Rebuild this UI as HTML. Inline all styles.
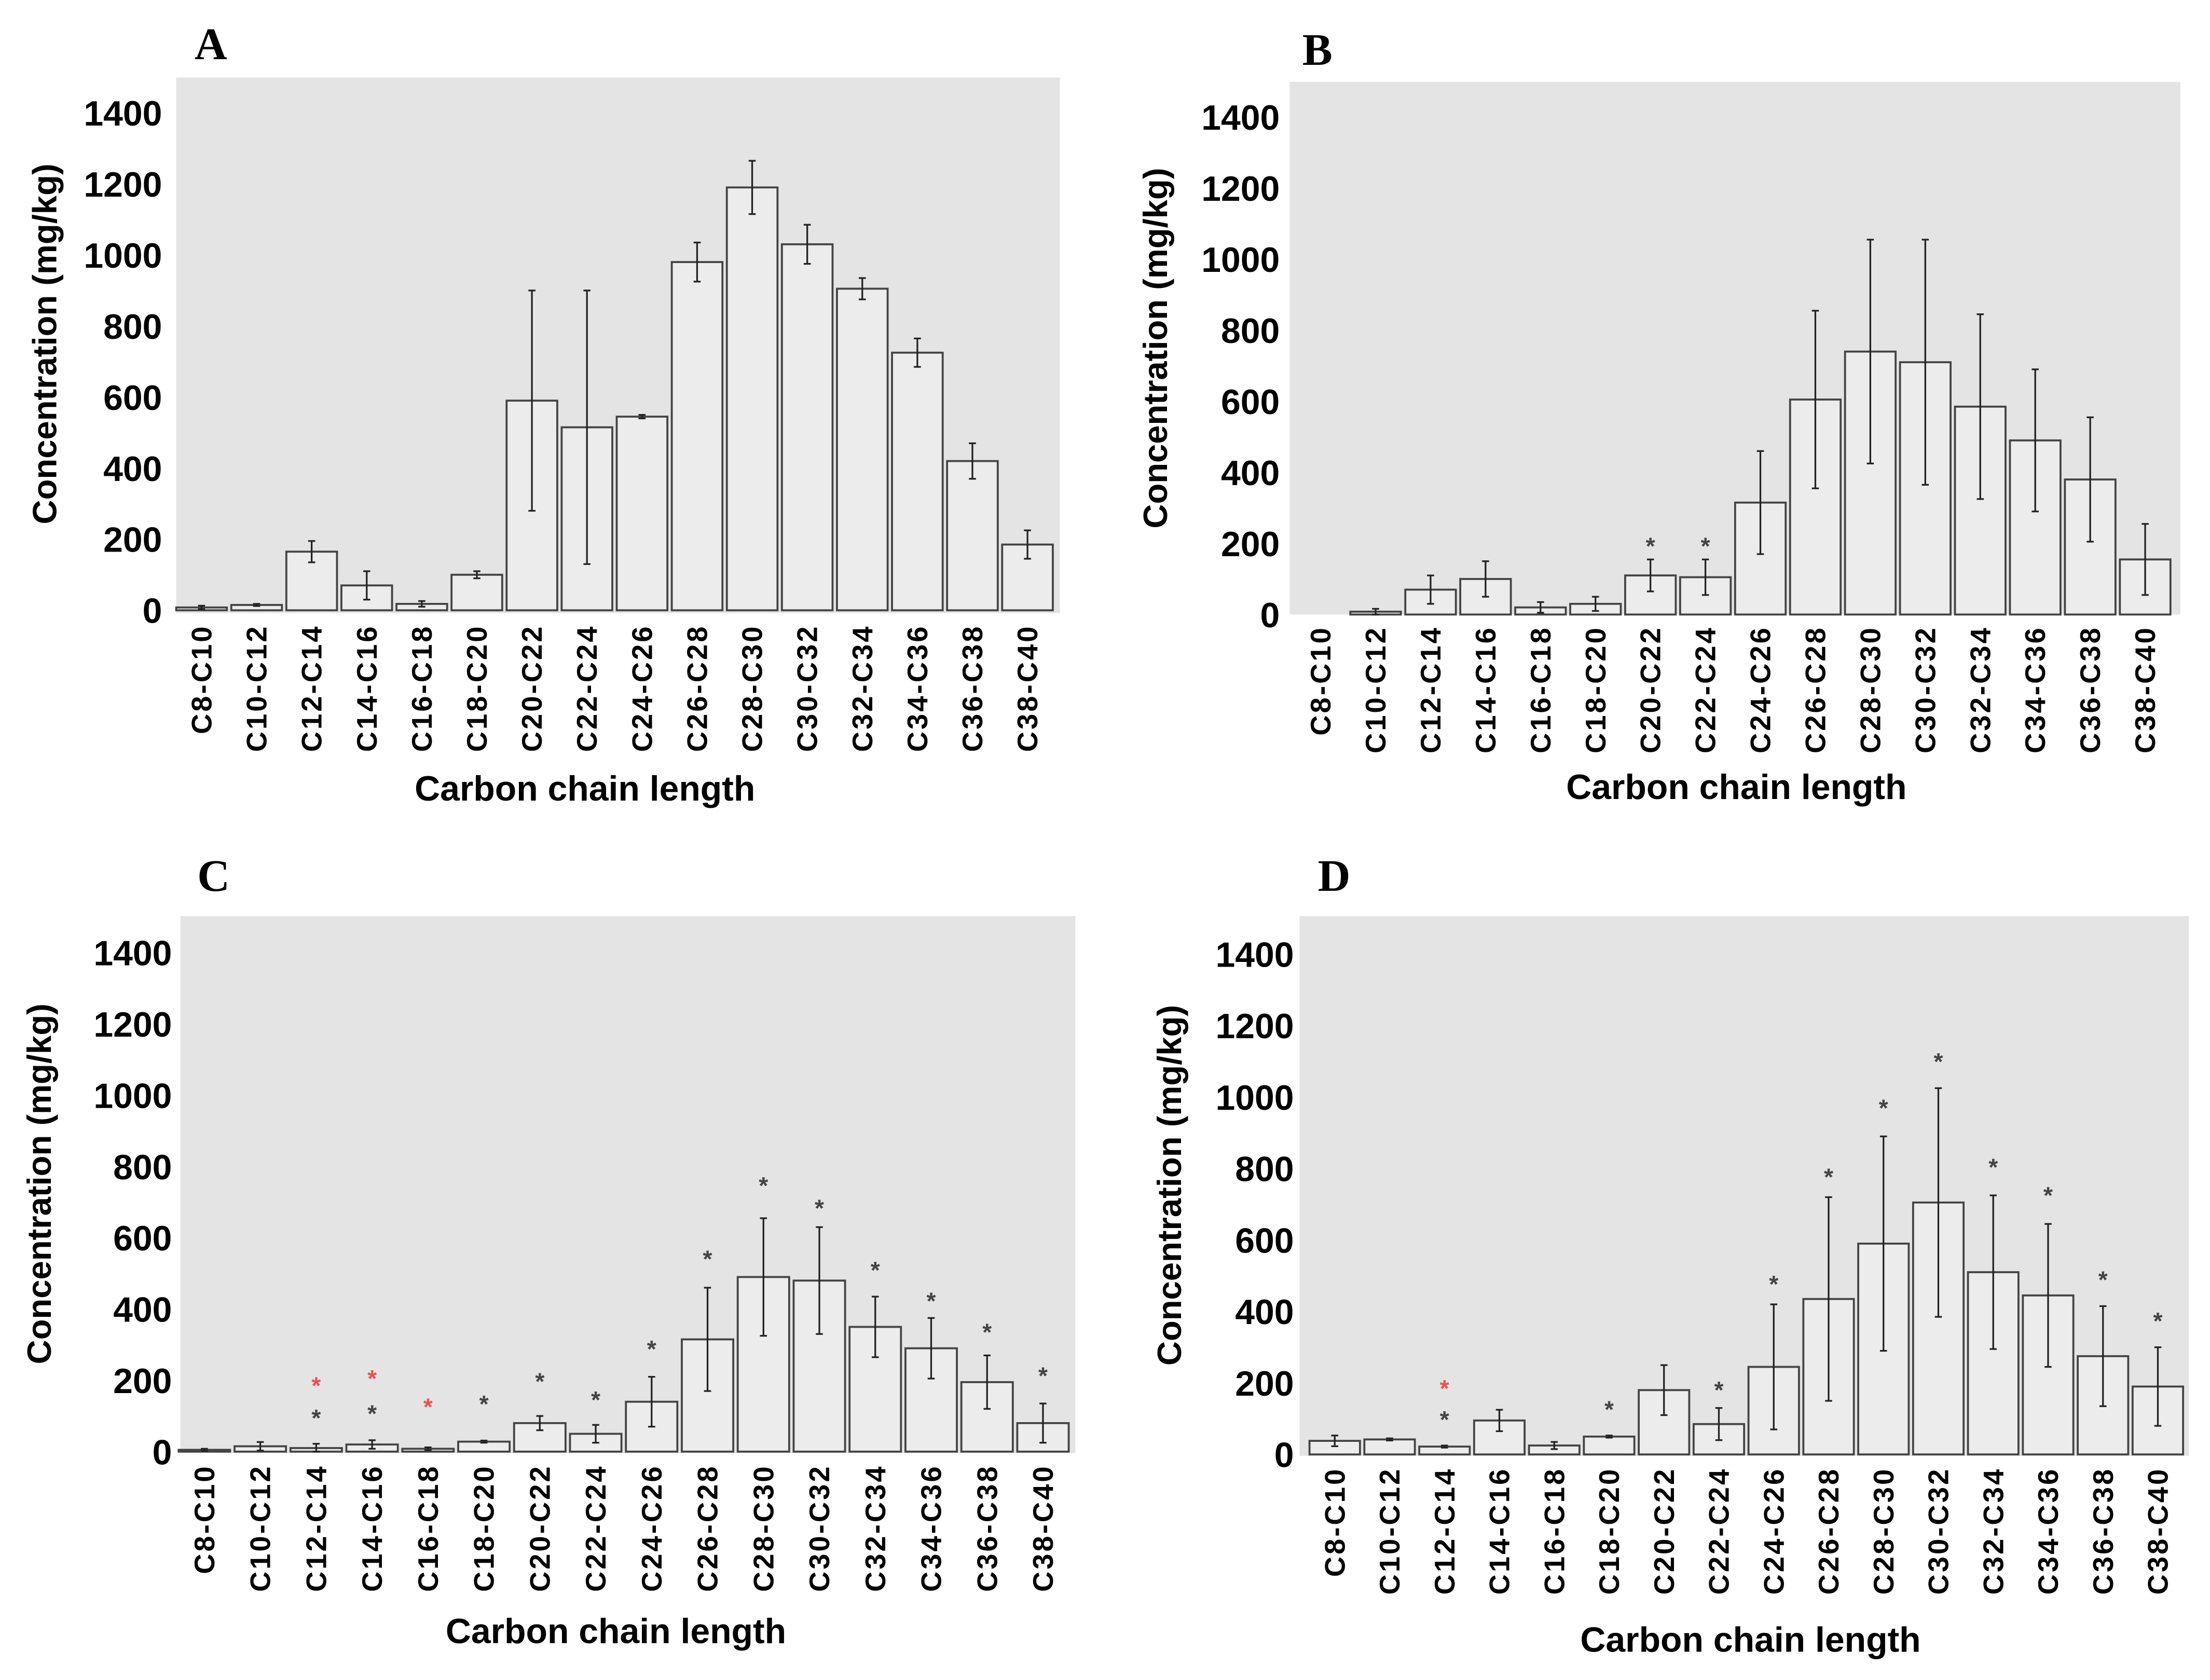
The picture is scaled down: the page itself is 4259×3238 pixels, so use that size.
<!DOCTYPE html>
<html><head><meta charset="utf-8">
<style>
html,body{margin:0;padding:0;background:#fff;}
svg{display:block;}
</style></head>
<body>
<svg id="fig" width="4259" height="3238" viewBox="0 0 1568 1192" xmlns="http://www.w3.org/2000/svg"></svg>
<script>
const categories = ["C8-C10","C10-C12","C12-C14","C14-C16","C16-C18","C18-C20","C20-C22","C22-C24","C24-C26","C26-C28","C28-C30","C30-C32","C32-C34","C34-C36","C36-C38","C38-C40"];
const yTicks = [0,200,400,600,800,1000,1200,1400];
const valuesA = [8,15,165,70,18,100,590,515,545,980,1190,1030,905,725,420,185];
const errorsA = [5,3,30,40,8,10,310,385,5,55,75,55,30,40,50,40];
const valuesB = [0,8,70,100,20,30,110,105,315,605,740,710,585,490,380,155];
const errorsB = [0,8,40,50,15,20,45,50,145,250,315,345,260,200,175,100];
const starsB = [null,null,null,null,null,null,205,205,null,null,null,null,null,null,null,null];
const redStarsB = [null,null,null,null,null,null,null,null,null,null,null,null,null,null,null,null];
const valuesC = [5,15,10,20,8,28,80,50,140,315,490,480,350,290,195,80];
const errorsC = [3,12,12,12,4,3,20,25,70,145,165,150,85,85,75,55];
const starsC = [null,null,107,119,null,146,209,158,300,553,759,696,522,435,348,225];
const redStarsC = [null,null,198,217,138,null,null,null,null,null,null,null,null,null,null,null];
const valuesD = [38,42,22,95,25,50,180,85,245,435,590,705,510,445,275,190];
const errorsD = [15,3,3,30,10,3,70,45,175,285,300,320,215,200,140,110];
const starsD = [null,null,110,null,null,138,null,193,489,789,982,1112,816,737,501,386];
const redStarsD = [null,null,197,null,null,null,null,null,null,null,null,null,null,null,null,null];

const NS="http://www.w3.org/2000/svg";
const svg=document.getElementById('fig');
const SANS='font-family:"Liberation Sans",sans-serif;font-weight:bold;';
function mk(tag,attrs,parent){const e=document.createElementNS(NS,tag);for(const k in attrs)e.setAttribute(k,attrs[k]);(parent||svg).appendChild(e);return e;}

const panels=[
 {id:'a',letter:'A',lx:138,ly:42,bg:[125,55,752,435],y0:433,y1400:80,x0:143,x15:729,tickX:115,yTitleX:40,xTitleX:415,xTitleY:568,vals:valuesA,errs:errorsA,stars:null,red:null},
 {id:'b',letter:'B',lx:924,ly:46,bg:[915,58,1547,436],y0:436,y1400:83,x0:937,x15:1522,tickX:908,yTitleX:828,xTitleX:1232,xTitleY:567,vals:valuesB,errs:errorsB,stars:starsB,red:redStarsB},
 {id:'c',letter:'C',lx:140,ly:632,bg:[128,650,763,1031],y0:1030,y1400:676,x0:145,x15:740,tickX:122,yTitleX:36,xTitleX:437,xTitleY:1166,vals:valuesC,errs:errorsC,stars:starsC,red:redStarsC},
 {id:'d',letter:'D',lx:935,ly:632,bg:[922,650,1553,1033],y0:1032,y1400:677,x0:947,x15:1531,tickX:918,yTitleX:838,xTitleX:1242,xTitleY:1172,vals:valuesD,errs:errorsD,stars:starsD,red:redStarsD}
];

panels.forEach(p=>{
  const g=mk('g',{});
  
  
  const yS=v=>p.y0-(v/1400)*(p.y0-p.y1400);
  const step=(p.x15-p.x0)/15;
  const xS=i=>p.x0+i*step;
  const bw=step*0.92;
  const L=mk('text',{x:p.lx,y:p.ly,style:'font-family:"Liberation Serif",serif;font-weight:bold;font-size:32px;fill:#000'},g);
  L.textContent=p.letter;
  
  
  const bg=mk('rect',{x:p.bg[0],y:p.bg[1],width:p.bg[2]-p.bg[0],height:p.bg[3]-p.bg[1],fill:'#e4e4e4'},g);
  
  
  yTicks.forEach(t=>{
    const tx=mk('text',{x:p.tickX,y:yS(t)+9,'text-anchor':'end',style:SANS+'font-size:25px;fill:#000'},g);
    tx.textContent=t;
    
    
  });
  const yt=mk('text',{x:0,y:0,'text-anchor':'middle',transform:`translate(${p.yTitleX},${(p.y0+p.bg[1])/2}) rotate(-90)`,style:SANS+'font-size:24px;fill:#000'},g);
  yt.textContent='Concentration (mg/kg)';
  
  
  const xt=mk('text',{x:p.xTitleX,y:p.xTitleY,'text-anchor':'middle',style:SANS+'font-size:25px;fill:#000'},g);
  xt.textContent='Carbon chain length';
  
  
  categories.forEach((c,i)=>{
    const cx=xS(i);
    const v=p.vals[i], e=p.errs[i];
    const b=mk('rect',{x:cx-bw/2,y:yS(v),width:bw,height:p.y0-yS(v),fill:'#ececec',stroke:'#444','stroke-width':1.4},g);
    
    
    if(e>0){
      const eg=mk('g',{stroke:'#222','stroke-width':1.2},g);
      
      
      mk('line',{x1:cx,x2:cx,y1:yS(v+e),y2:yS(Math.max(0,v-e))},eg);
      mk('line',{x1:cx-2.5,x2:cx+2.5,y1:yS(v+e),y2:yS(v+e)},eg);
      mk('line',{x1:cx-2.5,x2:cx+2.5,y1:yS(Math.max(0,v-e)),y2:yS(Math.max(0,v-e))},eg);
    }
    if(p.stars&&p.stars[i]!=null){
      const s=mk('text',{x:cx,y:yS(p.stars[i])+9,'text-anchor':'middle',style:SANS+'font-size:17px;fill:#444'},g);
      s.textContent='*';
      
      
    }
    if(p.red&&p.red[i]!=null){
      const s=mk('text',{x:cx,y:yS(p.red[i])+9,'text-anchor':'middle',style:SANS+'font-size:17px;fill:#f05050'},g);
      s.textContent='*';
      
      
    }
    const lt=mk('text',{x:0,y:0,'text-anchor':'end',transform:`translate(${cx+7},${p.bg[3]+8}) rotate(-90)`,style:SANS+'font-size:20px;letter-spacing:1.5px;fill:#000'},g);
    lt.textContent=c;
    
    
  });
});
</script>
</body></html>
